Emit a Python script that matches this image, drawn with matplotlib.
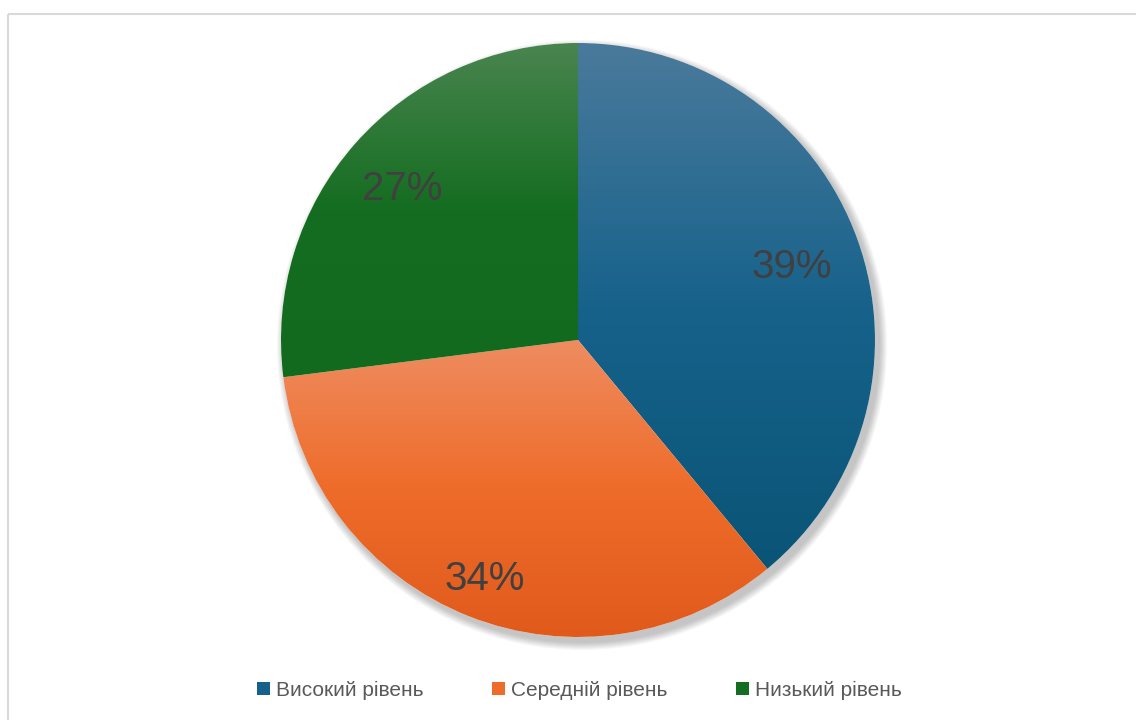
import matplotlib
matplotlib.use('Agg')
import matplotlib.pyplot as plt
from matplotlib.patches import Rectangle, Circle
from matplotlib.colors import LinearSegmentedColormap
import numpy as np

# дані
categories = ['Високий рівень', 'Середній рівень', 'Низький рівень']
shares = [39, 34, 27]
labels = ['39%', '34%', '27%']

# кольори градієнта: верх, середина, низ
grad_colors = [
    ['#4a7a9b', '#17628b', '#0a5476'],
    ['#ef8c60', '#ee6c2a', '#e05a1c'],
    ['#4a8550', '#146d20', '#116a1e'],
]
legend_colors = ['#15618a', '#ee6c2a', '#146d20']
label_dist = [0.765, 0.85, 0.79]

W, H = 1136, 720
fig = plt.figure(figsize=(W / 100, H / 100), dpi=100)
ax = fig.add_axes([0, 0, 1, 1])
ax.set_xlim(0, W)
ax.set_ylim(0, H)
ax.axis('off')

cx, cy, r = 578, H - 340, 297

# рамка діаграми
fig.add_artist(Rectangle((7.5 / W, 1 - 13.5 / H), 2, -2, transform=fig.transFigure,
                         fill=False, edgecolor='#d9d9d9', linewidth=1.5))

# м'яка тінь
for k in range(10):
    ax.add_patch(Circle((cx + 4, cy - 5), r + 1 + k * 0.8, facecolor='black',
                        alpha=0.025, edgecolor='none', zorder=1))
ax.add_patch(Circle((cx, cy), r, facecolor='white', edgecolor='none', zorder=1.5))

wedges, _ = ax.pie(shares, startangle=90, counterclock=False, center=(cx, cy),
                   radius=r, frame=True,
                   wedgeprops=dict(linewidth=0, edgecolor='none'))
ax.set_xlim(0, W)
ax.set_ylim(0, H)
ax.set_aspect('auto')
ax.axis('off')

for w, cols, lab, d in zip(wedges, grad_colors, labels, label_dist):
    w.set_facecolor('none')
    w.set_zorder(2)
    ext = w.get_path().get_extents(w.get_patch_transform())
    cmap = LinearSegmentedColormap.from_list('g', cols)
    grad = np.linspace(0, 1, 256).reshape(-1, 1)
    im = ax.imshow(grad, cmap=cmap, aspect='auto', origin='upper',
                   extent=[ext.x0, ext.x1, ext.y0, ext.y1], zorder=2,
                   interpolation='bilinear')
    im.set_clip_path(w)
    ang = np.deg2rad((w.theta1 + w.theta2) / 2)
    ax.text(cx + d * r * np.cos(ang), cy + d * r * np.sin(ang) - 4, lab,
            fontsize=29, color='#404040', ha='center', va='center',
            family='Liberation Sans', zorder=5)

handles = [Rectangle((0, 0), 1, 1, facecolor=c, edgecolor='none') for c in legend_colors]
fig.legend(handles, categories, loc='center', bbox_to_anchor=(0.51, 1 - 690 / H),
           ncol=3, frameon=False, handlelength=0.6, handleheight=0.6,
           handletextpad=0.3, columnspacing=3.3,
           prop=dict(family='Liberation Sans', size=15),
           labelcolor='#595959')

ax.set_xlim(0, W)
ax.set_ylim(0, H)
fig.savefig('out.png', dpi=100)
